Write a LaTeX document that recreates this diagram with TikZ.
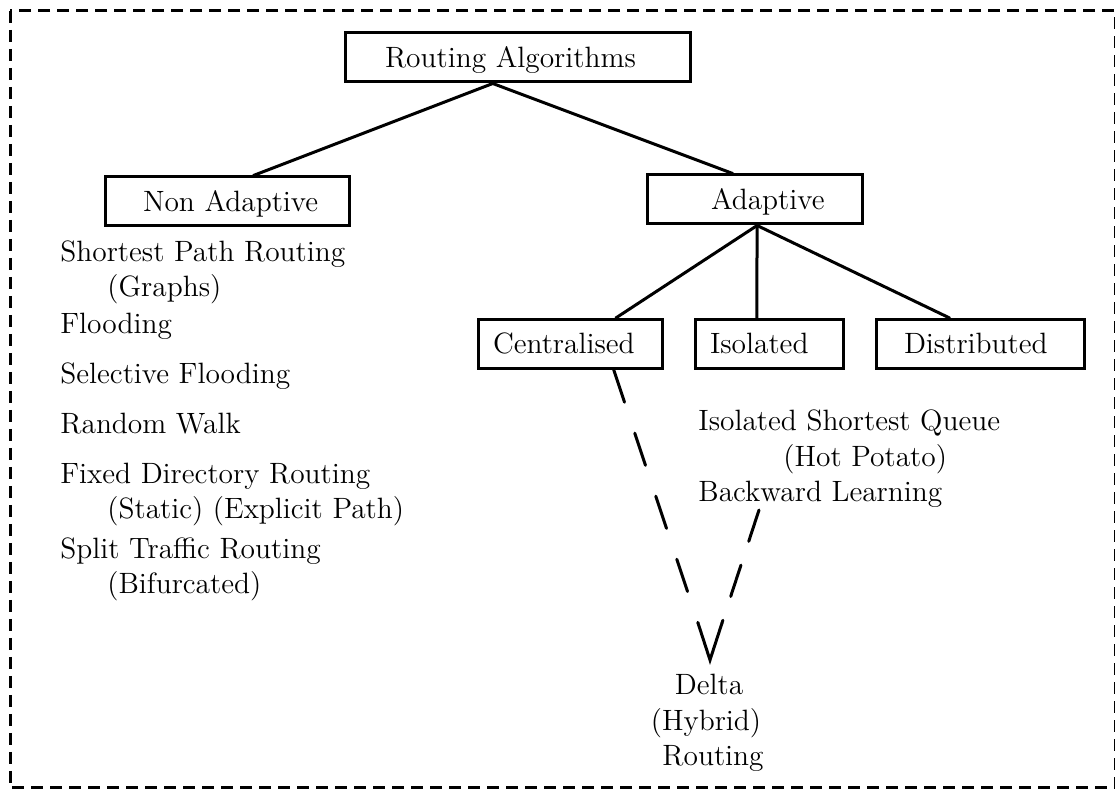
\documentclass[tikz,border=0pt]{standalone}
\usetikzlibrary{calc}
% box label: fixed-width line with a left indent
\newcommand\boxlabel[3]{\hbox to #1{\hskip #2\relax #3\hss}}
\begin{document}
\begin{tikzpicture}[x=0.5pt,y=-0.5pt,
  every node/.style={font=\fontsize{14.7}{17.6}\selectfont},
  box/.style={draw, line width=1.5pt, inner sep=0pt, text height=17.15pt, text depth=7.35pt},
  item/.style={anchor=base west, inner sep=0pt},
  centred/.style={anchor=base, inner sep=0pt},
  link/.style={line width=1.5pt, line cap=round}]
\useasboundingbox (0,0) rectangle (1115,790);

% dashed frame
\draw[line width=1.5pt, dash pattern=on 6pt off 3.5pt] (10,11) rectangle (1115,788);

% tree boxes
\node[box] (root)  at (517.5,57.5) {\boxlabel{172.5pt}{20pt}{Routing Algorithms}};
\node[box] (nonad) at (227,201.5)  {\boxlabel{122pt}{19pt}{Non Adaptive}};
\node[box] (adapt) at (754.5,199.5){\boxlabel{107.5pt}{32pt}{Adaptive}};
\node[box] (cent)  at (570,344)    {\boxlabel{92pt}{7.5pt}{Centralised}};
\node[box] (isol)  at (769,344)    {\boxlabel{74pt}{7.5pt}{Isolated}};
\node[box] (dist)  at (980,344)    {\boxlabel{104pt}{14pt}{Distributed}};

% tree links
\draw[link] ($(root.south west)!0.429!(root.south east)$) -- ($(nonad.north west)!0.607!(nonad.north east)$);
\draw[link] ($(root.south west)!0.429!(root.south east)$) -- ($(adapt.north west)!0.40!(adapt.north east)$);
\draw[link] ($(adapt.south west)!0.512!(adapt.south east)$) -- ($(cent.north west)!0.745!(cent.north east)$);
\draw[link] ($(adapt.south west)!0.512!(adapt.south east)$) -- ($(isol.north west)!0.419!(isol.north east)$);
\draw[link] ($(adapt.south west)!0.512!(adapt.south east)$) -- ($(dist.north west)!0.356!(dist.north east)$);

% non adaptive methods
\node[item] (spr)    at (60,262)  {Shortest Path Routing};
\node[item] (graphs) at (107,297) {(Graphs)};
\node[item] (flood)  at (60,334)  {Flooding};
\node[item] (sflood) at (60,384)  {Selective Flooding};
\node[item] (rwalk)  at (60,434)  {Random Walk};
\node[item] (fdr)    at (60,484)  {Fixed Directory Routing};
\node[item] (static) at (107,519) {(Static) (Explicit Path)};
\node[item] (split)  at (60,559)  {Split Traffic Routing};
\node[item] (bifurc) at (107,594) {(Bifurcated)};

% isolated methods
\node[item] (isq)  at (698,431) {Isolated Shortest Queue};
\node[item] (hot)  at (783,467) {(Hot Potato)};
\node[item] (back) at (698,502) {Backward Learning};

% hybrid
\node[centred] (delta)   at (709,695) {Delta};
\node[centred] (hybrid)  at (706,731) {(Hybrid)};
\node[centred] (routing) at (713,766) {Routing};

% converging dashed links
\coordinate (vl) at (698,623);
\coordinate (vt) at (710,660);
\coordinate (vr) at (722,623);
\coordinate (bstart) at (759,510);
\draw[link, dash pattern=on 17pt off 16.25pt] ($(cent.south west)!0.734!(cent.south east)$) -- (vl);
\draw[link, dash pattern=on 16.5pt off 12.5pt] (bstart) -- (vr);
\draw[link, line join=miter] (vl) -- (vt) -- (vr);
\end{tikzpicture}
\end{document}
